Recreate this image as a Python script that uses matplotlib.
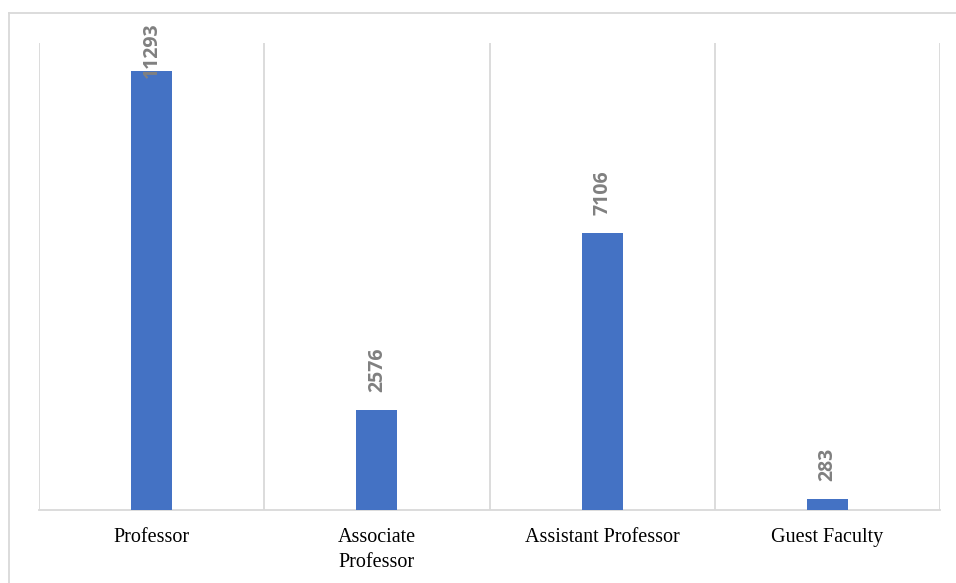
import matplotlib
matplotlib.use("Agg")
import matplotlib.pyplot as plt
from matplotlib.lines import Line2D
import numpy as np

# ── DATA ──────────────────────────────────────────────────────────────────────
categories = ["Professor", "Associate\nProfessor", "Assistant Professor", "Guest Faculty"]
counts     = [11293, 2576, 7106, 283]

BAR_COLOR  = "#4472C4"
GRID_COLOR = "#D9D9D9"
LABEL_GRAY = "#808080"

W, H, DPI = 956, 583, 100
fig = plt.figure(figsize=(W/DPI, H/DPI), dpi=DPI)
fig.patch.set_facecolor("white")

# plot area (pixel coordinates)
left, right, top, bottom = 39, 940, 43, 510
ax = fig.add_axes([left/W, 1-bottom/H, (right-left)/W, (bottom-top)/H])

x = np.arange(len(categories))
ax.bar(x, counts, width=0.182, color=BAR_COLOR, zorder=3)
ax.set_xlim(-0.5, len(categories)-0.5)
ax.set_ylim(0, 12000)

# category separators (vertical gridlines)
ax.set_xticks(np.arange(len(categories)+1)-0.5, minor=True)
ax.grid(True, which="minor", axis="x", color=GRID_COLOR, linewidth=1.3, zorder=0)
ax.tick_params(which="both", length=0)
ax.set_yticks([])
ax.set_xticks(x)
ax.set_xticklabels(categories, family="Liberation Serif", fontsize=14.5,
                   color="#000000", linespacing=1.45)
ax.tick_params(axis="x", pad=13)
for s in ["top", "right", "left"]:
    ax.spines[s].set_visible(False)
ax.spines["bottom"].set_color(GRID_COLOR)
ax.spines["bottom"].set_linewidth(1.3)

# value labels, rotated
labels = []
for xi, v in zip(x, counts):
    t = ax.annotate(f"{v}", xy=(xi, v), xytext=(0, 13), textcoords="offset points",
                    rotation=90, ha="center", va="bottom", fontsize=14,
                    fontweight="bold", family="Open Sans", color=LABEL_GRAY,
                    annotation_clip=False, zorder=4)
    labels.append(t)

# keep labels inside chart area (top limit ~22px from top of image)
fig.canvas.draw()
limit = H - 22
for t in labels:
    bb = t.get_window_extent()
    if bb.y1 > limit:
        shift = (bb.y1 - limit) * 72 / DPI
        ox, oy = t.xyann
        t.xyann = (ox, oy - shift)

# outer chart border (cut off at right/bottom in reference)
fig.add_artist(Line2D([9/W, 1], [1-13/H, 1-13/H], color=GRID_COLOR, linewidth=1.3,
                      transform=fig.transFigure))
fig.add_artist(Line2D([9/W, 9/W], [0, 1-13/H], color=GRID_COLOR, linewidth=1.3,
                      transform=fig.transFigure))

plt.savefig("out.png", dpi=DPI)
